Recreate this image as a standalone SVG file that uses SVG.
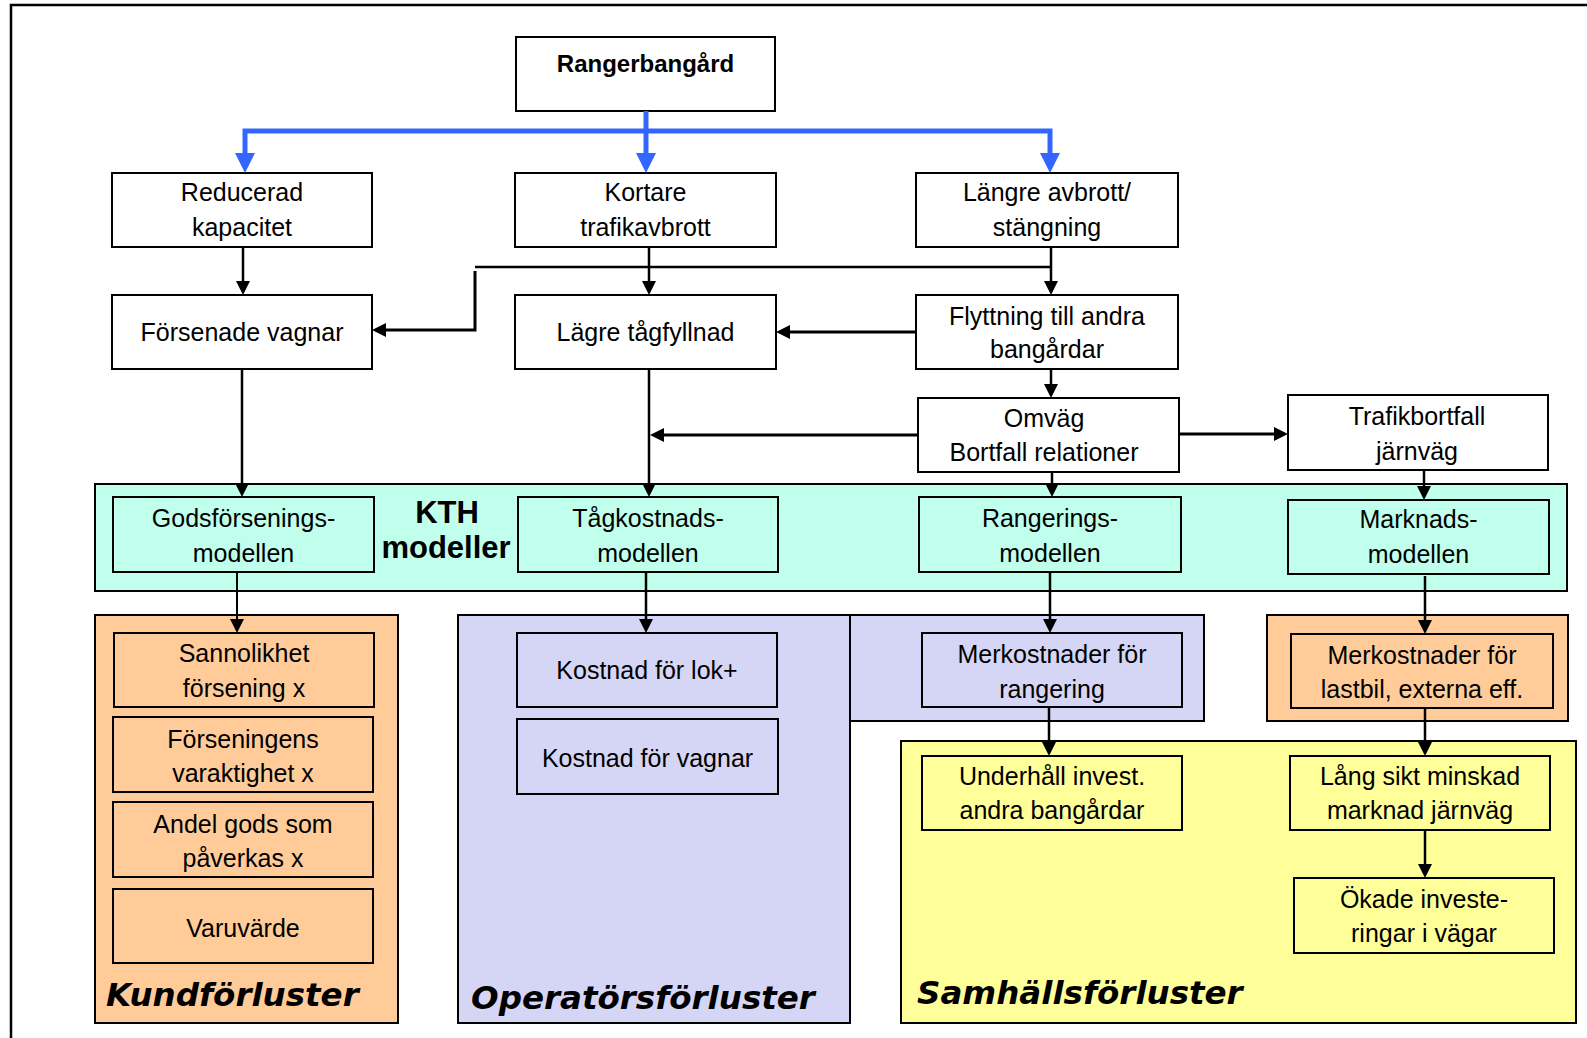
<svg xmlns="http://www.w3.org/2000/svg" width="1587" height="1038" viewBox="0 0 1587 1038">
<style>
.bx{fill:#ffffff;stroke:#000;stroke-width:2}
.kth{fill:#c0ffec;stroke:#000;stroke-width:2}
.or{fill:#ffcc99;stroke:#000;stroke-width:2}
.lv{fill:#d5d5f5;stroke:#000;stroke-width:2}
.ye{fill:#ffff99;stroke:#000;stroke-width:2}
text{font-family:"Liberation Sans",Arial,sans-serif;font-size:25px;fill:#000;text-anchor:middle}
.b{font-weight:bold;font-size:24px}
.kt{font-weight:bold;font-size:31px}
.lab{font-family:"DejaVu Sans",Verdana,sans-serif;font-weight:bold;font-style:oblique;font-size:32.5px;text-anchor:start}
.c{fill:none;stroke:#000;stroke-width:2.5;marker-end:url(#ah)}
.c3{fill:none;stroke:#000;stroke-width:3;marker-end:url(#ah)}
.bl{fill:none;stroke:#3366ff;stroke-width:5;marker-end:url(#bh)}
</style>
<defs>
<marker id="ah" viewBox="0 0 14 14" markerWidth="14" markerHeight="14" refX="0" refY="7" orient="auto" markerUnits="userSpaceOnUse"><path d="M0,0 L14,7 L0,14 z" fill="#000"/></marker>
<marker id="bh" viewBox="0 0 20 20" markerWidth="20" markerHeight="20" refX="0" refY="10" orient="auto" markerUnits="userSpaceOnUse"><path d="M0,0 L20,10 L0,20 z" fill="#3366ff"/></marker>
</defs>
<rect x="0" y="0" width="1587" height="1038" fill="#fff"/>
<path d="M11 1040 V5 H1590" fill="none" stroke="#000" stroke-width="2.5"/>

<g id="panels">
<rect id="kund" class="or" x="95" y="615" width="303" height="408"/>
<rect id="oper" class="lv" x="458" y="615" width="392" height="408"/>
<rect id="oper2" class="lv" x="850" y="615" width="354" height="106"/>
<rect id="orange2" class="or" x="1267" y="615" width="301" height="106"/>
<rect id="samh" class="ye" x="901" y="741" width="675" height="282"/>
<rect id="kthband" class="kth" x="95" y="484" width="1472" height="107"/>
<text class="kt" x="447" y="523">KTH</text>
<text class="kt" x="446" y="558">modeller</text>
<text class="lab" x="106" y="1006">Kundförluster</text>
<text class="lab" x="471" y="1009">Operatörsförluster</text>
<text class="lab" x="917" y="1004">Samhällsförluster</text>
</g>

<g id="n-rangerbangard"><rect class="bx" x="516" y="37" width="259" height="74"/><text class="b" x="645.5" y="72">Rangerbangård</text></g>
<g id="n-reducerad"><rect class="bx" x="112" y="173" width="260" height="74"/><text x="242" y="201">Reducerad</text><text x="242" y="236">kapacitet</text></g>
<g id="n-kortare"><rect class="bx" x="515" y="173" width="261" height="74"/><text x="645.5" y="201">Kortare</text><text x="645.5" y="236">trafikavbrott</text></g>
<g id="n-langre"><rect class="bx" x="916" y="173" width="262" height="74"/><text x="1047" y="201">Längre avbrott/</text><text x="1047" y="236">stängning</text></g>
<g id="n-forsenade"><rect class="bx" x="112" y="295" width="260" height="74"/><text x="242" y="341">Försenade vagnar</text></g>
<g id="n-lagre"><rect class="bx" x="515" y="295" width="261" height="74"/><text x="645.5" y="341">Lägre tågfyllnad</text></g>
<g id="n-flyttning"><rect class="bx" x="916" y="295" width="262" height="74"/><text x="1047" y="325">Flyttning till andra</text><text x="1047" y="358">bangårdar</text></g>
<g id="n-omvag"><rect class="bx" x="918" y="398" width="261" height="74"/><text x="1044" y="427">Omväg</text><text x="1044" y="461">Bortfall relationer</text></g>
<g id="n-trafikbortfall"><rect class="bx" x="1288" y="395" width="260" height="75"/><text x="1417" y="425">Trafikbortfall</text><text x="1417" y="460">järnväg</text></g>

<g id="n-godsf"><rect class="kth" x="113" y="497" width="261" height="75"/><text x="243.5" y="527">Godsförsenings-</text><text x="243.5" y="562">modellen</text></g>
<g id="n-tagk"><rect class="kth" x="518" y="497" width="260" height="75"/><text x="648" y="527">Tågkostnads-</text><text x="648" y="562">modellen</text></g>
<g id="n-rang"><rect class="kth" x="919" y="497" width="262" height="75"/><text x="1050" y="527">Rangerings-</text><text x="1050" y="562">modellen</text></g>
<g id="n-markn"><rect class="kth" x="1288" y="500" width="261" height="74"/><text x="1418.5" y="528">Marknads-</text><text x="1418.5" y="563">modellen</text></g>

<g id="n-sannolikhet"><rect class="or" x="114" y="633" width="260" height="74"/><text x="244" y="662">Sannolikhet</text><text x="244" y="697">försening x</text></g>
<g id="n-forseningens"><rect class="or" x="113" y="717" width="260" height="75"/><text x="243" y="748">Förseningens</text><text x="243" y="782">varaktighet x</text></g>
<g id="n-andel"><rect class="or" x="113" y="802" width="260" height="75"/><text x="243" y="833">Andel gods som</text><text x="243" y="867">påverkas x</text></g>
<g id="n-varuvarde"><rect class="or" x="113" y="889" width="260" height="74"/><text x="243" y="937">Varuvärde</text></g>

<g id="n-lok"><rect class="lv" x="517" y="633" width="260" height="74"/><text x="647" y="679">Kostnad för lok+</text></g>
<g id="n-vagnar"><rect class="lv" x="517" y="719" width="261" height="75"/><text x="647.5" y="767">Kostnad för vagnar</text></g>
<g id="n-merk-rang"><rect class="lv" x="922" y="633" width="260" height="74"/><text x="1052" y="663">Merkostnader för</text><text x="1052" y="698">rangering</text></g>
<g id="n-merk-last"><rect class="or" x="1291" y="634" width="262" height="74"/><text x="1422" y="664">Merkostnader för</text><text x="1422" y="698">lastbil, externa eff.</text></g>
<g id="n-underhall"><rect class="ye" x="922" y="756" width="260" height="74"/><text x="1052" y="785">Underhåll invest.</text><text x="1052" y="819">andra bangårdar</text></g>
<g id="n-langsikt"><rect class="ye" x="1290" y="756" width="260" height="74"/><text x="1420" y="785">Lång sikt minskad</text><text x="1420" y="819">marknad järnväg</text></g>
<g id="n-okade"><rect class="ye" x="1294" y="878" width="260" height="75"/><text x="1424" y="908">Ökade investe-</text><text x="1424" y="942">ringar i vägar</text></g>

<g id="connectors">
<path class="bl" d="M646 111 V153"/>
<path class="bl" d="M646 131 H245 V153"/>
<path class="bl" d="M646 131 H1050 V153"/>
<path class="c" d="M243 247 V281"/>
<path class="c" d="M649 247 V281"/>
<path class="c" d="M1051 247 V281"/>
<path d="M475 267 H1051" fill="none" stroke="#000" stroke-width="2.5"/>
<path class="c3" d="M475 271 V330 H386"/>
<path class="c3" d="M916 332 H790"/>
<path class="c" d="M1051 369 V384"/>
<path class="c3" d="M918 435 H664"/>
<path class="c3" d="M1179 434 H1274"/>
<path class="c" d="M242 369 V483"/>
<path class="c" d="M649 369 V483"/>
<path class="c" d="M1052 472 V483"/>
<path class="c" d="M1424 470 V486"/>
<path class="c" d="M237 572 V619" style="stroke-width:2"/>
<path class="c" d="M646 572 V619"/>
<path class="c" d="M1050 572 V619"/>
<path class="c" d="M1425 576 V620"/>
<path class="c" d="M1049 707 V742"/>
<path class="c" d="M1425 708 V742"/>
<path class="c" d="M1425 830 V864"/>
</g>
</svg>
